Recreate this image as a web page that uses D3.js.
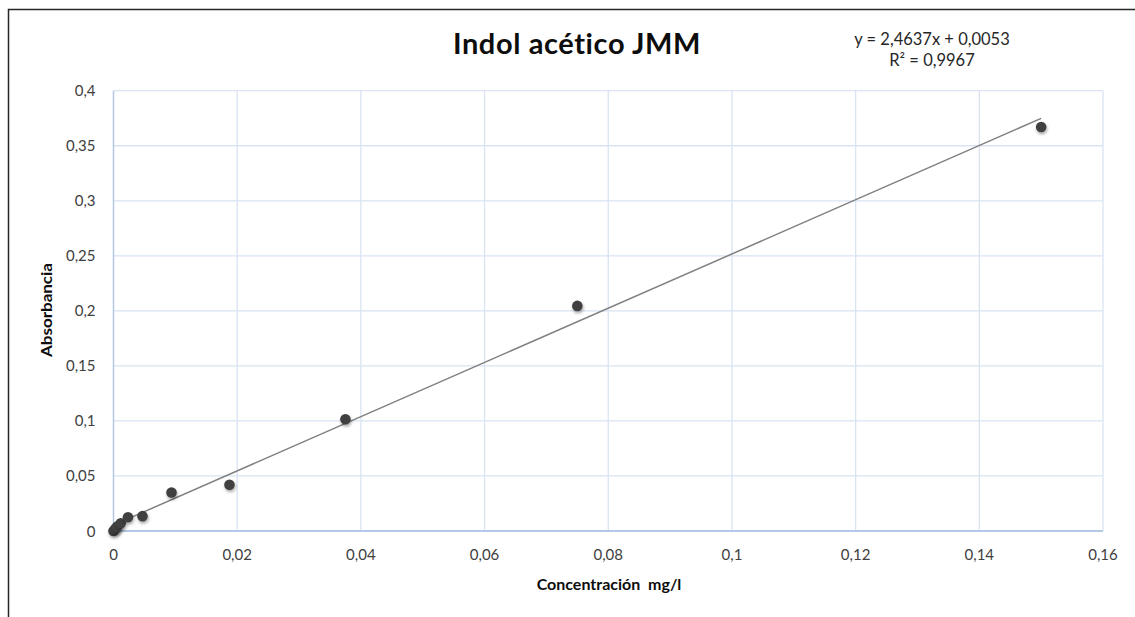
<!DOCTYPE html>
<html>
<head>
<meta charset="utf-8">
<script src="https://cdn.jsdelivr.net/npm/d3@7"></script>
<style>
  body { margin: 0; background: #fff; }
  svg { display: block; font-family: Lato, "Open Sans", sans-serif; }
</style>
</head>
<body>
<div class="chart-area"></div>
<script>
// concentration (mg/l) and absorbance
const concentracion = [0, 0.000293, 0.000586, 0.00117, 0.00234, 0.00469, 0.00938, 0.01875, 0.0375, 0.075, 0.15];
const absorbancia = [0, 0.002, 0.004, 0.007, 0.0125, 0.0135, 0.035, 0.042, 0.1015, 0.2045, 0.367];

const xTicks = [0, 0.02, 0.04, 0.06, 0.08, 0.1, 0.12, 0.14, 0.16];
const yTicks = [0, 0.05, 0.1, 0.15, 0.2, 0.25, 0.3, 0.35, 0.4];

// linear trendline from Excel
const pendiente = 2.4637;
const intercepto = 0.0053;
const r2 = 0.9967;

const width = 1135;
const height = 617;
const margin = { top: 90.7, right: 32, bottom: 86, left: 113.5 };

const comma = v => String(+v.toFixed(4)).replace(".", ",");

const svg = d3.select(".chart-area")
    .append("svg")
    .attr("width", width)
    .attr("height", height);

const defs = svg.append("defs");
const shadow = defs.append("filter")
    .attr("id", "sombra")
    .attr("x", "-50%").attr("y", "-50%")
    .attr("width", "200%").attr("height", "200%");
shadow.append("feDropShadow")
    .attr("dx", 0.8).attr("dy", 2)
    .attr("stdDeviation", 1.6)
    .attr("flood-color", "#000")
    .attr("flood-opacity", 0.35);

// chart frame (only left and top edges are visible in the crop)
svg.append("path")
    .attr("d", `M8.5,${height} V9.5 H${width}`)
    .attr("fill", "none")
    .attr("stroke", "#262626")
    .attr("stroke-width", 1.5);

const x = d3.scaleLinear()
    .domain([0, 0.16])
    .range([margin.left, width - margin.right]);

const y = d3.scaleLinear()
    .domain([0, 0.4])
    .range([height - margin.bottom, margin.top]);

const g = svg.append("g");

// gridlines
g.selectAll(".vgrid")
    .data(xTicks.slice(1))
    .enter().append("line")
    .attr("class", "vgrid")
    .attr("x1", d => x(d)).attr("x2", d => x(d))
    .attr("y1", y(0.4)).attr("y2", y(0))
    .attr("stroke", "#d9e3f3")
    .attr("stroke-width", 1.3);

g.selectAll(".hgrid")
    .data(yTicks.slice(1))
    .enter().append("line")
    .attr("class", "hgrid")
    .attr("x1", x(0)).attr("x2", x(0.16))
    .attr("y1", d => y(d)).attr("y2", d => y(d))
    .attr("stroke", "#d9e3f3")
    .attr("stroke-width", 1.3);

// axis lines
g.append("line")
    .attr("x1", x(0)).attr("x2", x(0))
    .attr("y1", y(0.4)).attr("y2", y(0))
    .attr("stroke", "#b4c8e8")
    .attr("stroke-width", 1.5);
g.append("line")
    .attr("x1", x(0)).attr("x2", x(0.16))
    .attr("y1", y(0)).attr("y2", y(0))
    .attr("stroke", "#b4c8e8")
    .attr("stroke-width", 2);

// tick labels
g.selectAll(".xlab")
    .data(xTicks)
    .enter().append("text")
    .attr("class", "xlab")
    .attr("x", d => x(d))
    .attr("y", y(0) + 29)
    .attr("text-anchor", "middle")
    .attr("font-size", 15)
    .attr("fill", "#404040")
    .text(comma);

g.selectAll(".ylab")
    .data(yTicks)
    .enter().append("text")
    .attr("class", "ylab")
    .attr("x", x(0) - 18)
    .attr("y", d => y(d) + 5.5)
    .attr("text-anchor", "end")
    .attr("font-size", 15)
    .attr("fill", "#404040")
    .text(comma);

// trendline over the data range
const xMin = d3.min(concentracion);
const xMax = d3.max(concentracion);
g.append("line")
    .attr("x1", x(xMin)).attr("y1", y(pendiente * xMin + intercepto))
    .attr("x2", x(xMax)).attr("y2", y(pendiente * xMax + intercepto))
    .attr("stroke", "#808080")
    .attr("stroke-width", 1.5);

// points
g.selectAll(".punto")
    .data(concentracion)
    .enter().append("circle")
    .attr("class", "punto")
    .attr("cx", d => x(d))
    .attr("cy", (d, i) => y(absorbancia[i]))
    .attr("r", 5.3)
    .attr("fill", "#404040")
    .attr("filter", "url(#sombra)");

// titles
svg.append("text")
    .attr("x", 577)
    .attr("y", 54)
    .attr("text-anchor", "middle")
    .attr("font-size", 29)
    .attr("font-weight", "bold")
    .attr("letter-spacing", 0.6)
    .attr("fill", "#0d0d0d")
    .text("Indol acético JMM");

svg.append("text")
    .attr("x", 932)
    .attr("y", 44.5)
    .attr("text-anchor", "middle")
    .attr("font-size", 16.5)
    .attr("fill", "#262626")
    .text(`y = ${comma(pendiente)}x + ${comma(intercepto)}`);

svg.append("text")
    .attr("x", 932)
    .attr("y", 66)
    .attr("text-anchor", "middle")
    .attr("font-size", 16.5)
    .attr("fill", "#262626")
    .text(`R² = ${comma(r2)}`);

svg.append("text")
    .attr("x", 609)
    .attr("y", 590)
    .attr("text-anchor", "middle")
    .attr("font-size", 16)
    .attr("font-weight", "bold")
    .attr("fill", "#0d0d0d")
    .attr("xml:space", "preserve")
    .text("Concentración  mg/l");

svg.append("text")
    .attr("transform", "translate(52,310) rotate(-90)")
    .attr("text-anchor", "middle")
    .attr("font-size", 15)
    .attr("font-weight", "bold")
    .attr("fill", "#0d0d0d")
    .attr("textLength", 94)
    .attr("lengthAdjust", "spacingAndGlyphs")
    .text("Absorbancia");
</script>
</body>
</html>
